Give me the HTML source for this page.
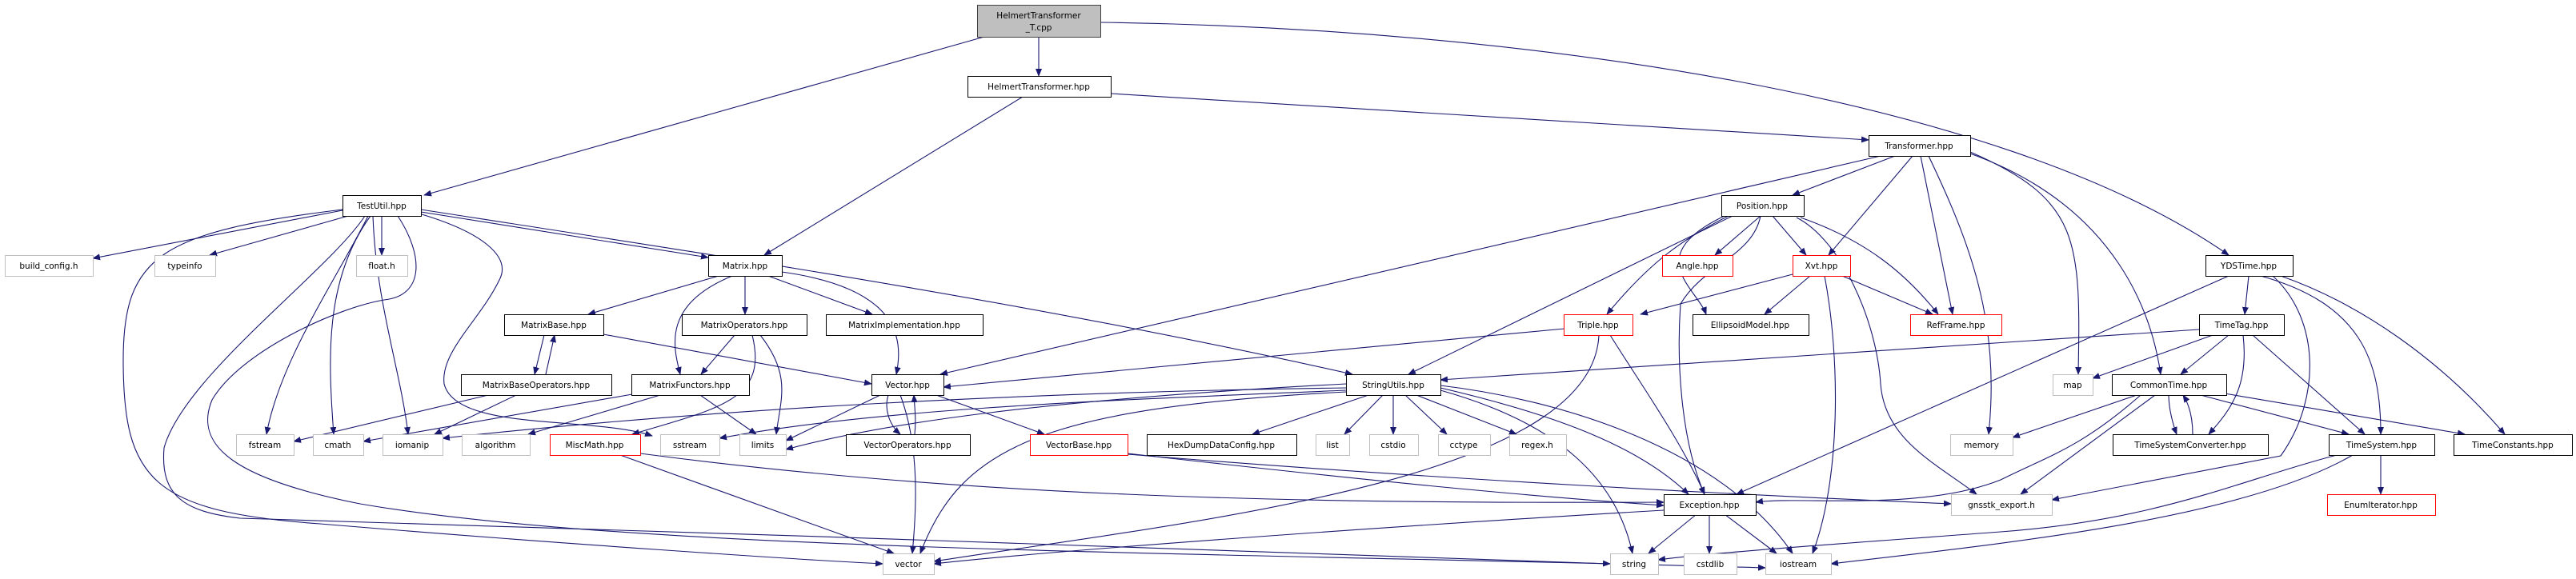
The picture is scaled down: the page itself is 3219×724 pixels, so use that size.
<!DOCTYPE html>
<html><head><meta charset="utf-8"><style>
html,body{margin:0;padding:0;background:#fff;width:3219px;height:724px;overflow:hidden}
svg text{font-family:"DejaVu Sans","Liberation Sans",sans-serif;font-size:10.5px;text-anchor:middle;fill:#000}
.e{fill:none;stroke:#191970;stroke-width:1.1;marker-end:url(#a)}
.n{fill:#fff;stroke:#000;stroke-width:1}
.g{fill:#fff;stroke:#bfbfbf;stroke-width:1}
.r{fill:#fff;stroke:#ff0000;stroke-width:1}
</style></head><body>
<svg width="3219" height="724" viewBox="0 0 3219 724" xmlns="http://www.w3.org/2000/svg">
<defs><marker id="a" markerWidth="10" markerHeight="8" refX="9" refY="4" orient="auto" markerUnits="userSpaceOnUse"><path d="M0,0 L10,4 L0,8 z" fill="#191970"/></marker></defs>
<g>
<path class="e" d="M1230,46 L530,244"/>
<path class="e" d="M1298,46 L1298,95"/>
<path class="e" d="M1375,28 C1900,35 2500,120 2785,319"/>
<path class="e" d="M1278,121 L955,319"/>
<path class="e" d="M1388,117 L2335,175"/>
<path class="e" d="M2350,195 L1175,468"/>
<path class="e" d="M2368,195 L2240,244"/>
<path class="e" d="M2390,195 L2285,319"/>
<path class="e" d="M2400,195 L2440,393"/>
<path class="e" d="M2462,190 C2600,250 2600,300 2597,468"/>
<path class="e" d="M2462,192 C2650,260 2690,400 2700,468"/>
<path class="e" d="M2410,195 C2460,300 2500,400 2485,543"/>
<path class="e" d="M2165,270 L1760,468"/>
<path class="e" d="M2160,270 C2100,300 2060,330 2008,393"/>
<path class="e" d="M2200,270 L2143,319"/>
<path class="e" d="M2215,270 L2257,319"/>
<path class="e" d="M2250,272 C2330,300 2380,340 2422,393"/>
<path class="e" d="M2245,272 C2300,300 2345,400 2350,480 C2355,550 2420,580 2470,618"/>
<path class="e" d="M2155,270 C2050,320 2120,360 2132,393"/>
<path class="e" d="M2200,270 C2190,320 2130,330 2100,380 C2095,450 2100,550 2130,618"/>
<path class="e" d="M2240,343 L2050,393"/>
<path class="e" d="M2262,345 L2205,393"/>
<path class="e" d="M2302,345 L2415,393"/>
<path class="e" d="M2280,345 C2300,450 2300,600 2265,692"/>
<path class="e" d="M1955,411 L1179,484"/>
<path class="e" d="M2012,419 C2050,480 2100,550 2130,618"/>
<path class="e" d="M1998,419 C1990,600 1500,650 1167,702"/>
<path class="e" d="M2785,345 L2170,618"/>
<path class="e" d="M2810,345 L2805,393"/>
<path class="e" d="M2825,345 C2950,380 2975,450 2975,543"/>
<path class="e" d="M2850,345 C2950,380 3050,450 3130,543"/>
<path class="e" d="M2840,345 C2900,400 2900,500 2850,570 L2564,625"/>
<path class="e" d="M2748,412 L1800,475"/>
<path class="e" d="M2765,419 L2615,473"/>
<path class="e" d="M2785,419 L2725,468"/>
<path class="e" d="M2803,419 C2810,480 2790,510 2760,543"/>
<path class="e" d="M2815,419 L2955,543"/>
<path class="e" d="M2670,494 L2515,547"/>
<path class="e" d="M2710,494 C2710,510 2715,530 2720,543"/>
<path class="e" d="M2740,543 C2740,520 2735,505 2728,494"/>
<path class="e" d="M2750,494 L2935,543"/>
<path class="e" d="M2780,492 L3080,543"/>
<path class="e" d="M2693,494 L2525,618"/>
<path class="e" d="M2675,494 C2600,560 2560,570 2500,600 C2400,640 2250,620 2194,628"/>
<path class="e" d="M2975,569 L2975,618"/>
<path class="e" d="M2920,569 C2800,600 2700,650 2500,665 C2300,680 2150,690 2072,700"/>
<path class="e" d="M2940,569 C2800,650 2500,680 2288,705"/>
<path class="e" d="M428,263 L116,323"/>
<path class="e" d="M435,270 L262,319"/>
<path class="e" d="M477,270 L477,319"/>
<path class="e" d="M526,265 L885,322"/>
<path class="e" d="M526,262 C900,320 1300,380 1690,468"/>
<path class="e" d="M460,270 C420,350 350,450 333,543"/>
<path class="e" d="M463,270 C405,350 410,450 417,543"/>
<path class="e" d="M466,270 C470,380 500,460 510,543"/>
<path class="e" d="M527,268 C600,290 640,320 624,350 C600,400 550,440 555,480 C570,540 740,520 815,545"/>
<path class="e" d="M428,262 C200,290 154,320 154,450 C154,600 190,640 400,655 C700,680 1000,700 1103,705"/>
<path class="e" d="M456,270 C410,340 230,470 205,560 C200,620 230,640 300,648 C800,665 1700,690 2012,705"/>
<path class="e" d="M497,270 C530,320 530,370 480,375 C420,385 300,440 265,500 C240,560 300,600 450,630 C800,690 1500,690 2206,710"/>
<path class="e" d="M898,345 L735,393"/>
<path class="e" d="M915,345 C830,380 840,430 850,468"/>
<path class="e" d="M931,345 L931,393"/>
<path class="e" d="M960,345 L1090,393"/>
<path class="e" d="M977,340 C1120,360 1130,420 1120,468"/>
<path class="e" d="M680,419 L668,468"/>
<path class="e" d="M682,468 L693,419"/>
<path class="e" d="M754,418 L1089,480"/>
<path class="e" d="M610,494 L367,552"/>
<path class="e" d="M645,494 L543,543"/>
<path class="e" d="M918,419 L876,468"/>
<path class="e" d="M940,419 C960,500 900,510 790,543"/>
<path class="e" d="M950,419 C990,470 975,500 970,543"/>
<path class="e" d="M790,493 L454,552"/>
<path class="e" d="M825,494 L660,543"/>
<path class="e" d="M875,494 L945,543"/>
<path class="e" d="M1110,494 C1105,510 1110,530 1125,543"/>
<path class="e" d="M1143,543 C1145,525 1143,510 1142,494"/>
<path class="e" d="M1170,494 L1305,543"/>
<path class="e" d="M1100,494 L982,551"/>
<path class="e" d="M1125,494 C1150,560 1145,640 1140,692"/>
<path class="e" d="M1682,485 C1300,490 900,510 553,548"/>
<path class="e" d="M1682,480 C1300,500 1100,530 982,562"/>
<path class="e" d="M1682,488 C1400,500 1100,510 899,548"/>
<path class="e" d="M1682,490 C1300,510 1200,560 1150,692"/>
<path class="e" d="M1710,494 L1565,543"/>
<path class="e" d="M1728,494 L1680,543"/>
<path class="e" d="M1741,494 L1741,543"/>
<path class="e" d="M1756,494 L1808,543"/>
<path class="e" d="M1770,494 L1895,543"/>
<path class="e" d="M1800,485 C1950,520 2050,560 2110,618"/>
<path class="e" d="M1800,488 C1950,530 2020,600 2040,692"/>
<path class="e" d="M1800,482 C1950,500 2150,560 2240,692"/>
<path class="e" d="M775,569 L1117,692"/>
<path class="e" d="M800,567 C1200,620 1600,630 2079,628"/>
<path class="e" d="M1409,567 C1700,600 1900,620 2079,632"/>
<path class="e" d="M1409,568 C1800,600 2200,620 2438,630"/>
<path class="e" d="M2079,638 C1700,660 1300,690 1167,705"/>
<path class="e" d="M2120,643 L2060,692"/>
<path class="e" d="M2136,643 L2136,692"/>
<path class="e" d="M2155,643 L2220,692"/>
</g>
<g>
<rect x="1221.5" y="6.5" width="154" height="40" fill="#bfbfbf" stroke="#404040"/>
<text x="1298" y="23">HelmertTransformer</text><text x="1298" y="38">_T.cpp</text>
<rect class="n" x="1209.5" y="95.5" width="179" height="26"/><text x="1298" y="112">HelmertTransformer.hpp</text>
<rect class="n" x="2335.5" y="169.5" width="127" height="26"/><text x="2398" y="186">Transformer.hpp</text>
<rect class="n" x="428.5" y="244.5" width="98" height="26"/><text x="477" y="261">TestUtil.hpp</text>
<rect class="n" x="2151.5" y="244.5" width="103" height="26"/><text x="2202" y="261">Position.hpp</text>
<rect class="g" x="6.5" y="319.5" width="110" height="26"/><text x="61" y="336">build_config.h</text>
<rect class="g" x="193.5" y="319.5" width="76" height="26"/><text x="231" y="336">typeinfo</text>
<rect class="g" x="445.5" y="319.5" width="64" height="26"/><text x="477" y="336">float.h</text>
<rect class="n" x="885.5" y="319.5" width="92" height="26"/><text x="931" y="336">Matrix.hpp</text>
<rect class="r" x="2077.5" y="319.5" width="88" height="26"/><text x="2121" y="336">Angle.hpp</text>
<rect class="r" x="2240.5" y="319.5" width="72" height="26"/><text x="2276" y="336">Xvt.hpp</text>
<rect class="n" x="2756.5" y="319.5" width="109" height="26"/><text x="2810" y="336">YDSTime.hpp</text>
<rect class="n" x="630.5" y="393.5" width="124" height="26"/><text x="692" y="410">MatrixBase.hpp</text>
<rect class="n" x="852.5" y="393.5" width="156" height="26"/><text x="930" y="410">MatrixOperators.hpp</text>
<rect class="n" x="1032.5" y="393.5" width="196" height="26"/><text x="1130" y="410">MatrixImplementation.hpp</text>
<rect class="r" x="1954.5" y="393.5" width="86" height="26"/><text x="1997" y="410">Triple.hpp</text>
<rect class="n" x="2115.5" y="393.5" width="145" height="26"/><text x="2187" y="410">EllipsoidModel.hpp</text>
<rect class="r" x="2387.5" y="393.5" width="114" height="26"/><text x="2444" y="410">RefFrame.hpp</text>
<rect class="n" x="2748.5" y="393.5" width="106" height="26"/><text x="2801" y="410">TimeTag.hpp</text>
<rect class="n" x="576.5" y="468.5" width="188" height="26"/><text x="670" y="485">MatrixBaseOperators.hpp</text>
<rect class="n" x="789.5" y="468.5" width="147" height="26"/><text x="862" y="485">MatrixFunctors.hpp</text>
<rect class="n" x="1089.5" y="468.5" width="90" height="26"/><text x="1134" y="485">Vector.hpp</text>
<rect class="n" x="1682.5" y="468.5" width="118" height="26"/><text x="1741" y="485">StringUtils.hpp</text>
<rect class="g" x="2565.5" y="468.5" width="50" height="26"/><text x="2590" y="485">map</text>
<rect class="n" x="2639.5" y="468.5" width="143" height="26"/><text x="2710" y="485">CommonTime.hpp</text>
<rect class="g" x="295.5" y="543.5" width="72" height="26"/><text x="331" y="560">fstream</text>
<rect class="g" x="391.5" y="543.5" width="63" height="26"/><text x="422" y="560">cmath</text>
<rect class="g" x="478.5" y="543.5" width="75" height="26"/><text x="515" y="560">iomanip</text>
<rect class="g" x="577.5" y="543.5" width="85" height="26"/><text x="619" y="560">algorithm</text>
<rect class="r" x="687.5" y="543.5" width="113" height="26"/><text x="743" y="560">MiscMath.hpp</text>
<rect class="g" x="825.5" y="543.5" width="74" height="26"/><text x="862" y="560">sstream</text>
<rect class="g" x="924.5" y="543.5" width="58" height="26"/><text x="953" y="560">limits</text>
<rect class="n" x="1057.5" y="543.5" width="155" height="26"/><text x="1134" y="560">VectorOperators.hpp</text>
<rect class="r" x="1287.5" y="543.5" width="122" height="26"/><text x="1348" y="560">VectorBase.hpp</text>
<rect class="n" x="1433.5" y="543.5" width="187" height="26"/><text x="1526" y="560">HexDumpDataConfig.hpp</text>
<rect class="g" x="1644.5" y="543.5" width="42" height="26"/><text x="1665" y="560">list</text>
<rect class="g" x="1711.5" y="543.5" width="61" height="26"/><text x="1741" y="560">cstdio</text>
<rect class="g" x="1797.5" y="543.5" width="65" height="26"/><text x="1829" y="560">cctype</text>
<rect class="g" x="1886.5" y="543.5" width="71" height="26"/><text x="1921" y="560">regex.h</text>
<rect class="g" x="2437.5" y="543.5" width="78" height="26"/><text x="2476" y="560">memory</text>
<rect class="n" x="2640.5" y="543.5" width="194" height="26"/><text x="2737" y="560">TimeSystemConverter.hpp</text>
<rect class="n" x="2910.5" y="543.5" width="132" height="26"/><text x="2976" y="560">TimeSystem.hpp</text>
<rect class="n" x="3066.5" y="543.5" width="148" height="26"/><text x="3140" y="560">TimeConstants.hpp</text>
<rect class="n" x="2079.5" y="618.5" width="115" height="26"/><text x="2136" y="635">Exception.hpp</text>
<rect class="g" x="2438.5" y="618.5" width="126" height="26"/><text x="2501" y="635">gnsstk_export.h</text>
<rect class="r" x="2908.5" y="618.5" width="135" height="26"/><text x="2975" y="635">EnumIterator.hpp</text>
<rect class="g" x="1103.5" y="692.5" width="64" height="26"/><text x="1135" y="709">vector</text>
<rect class="g" x="2012.5" y="692.5" width="60" height="26"/><text x="2042" y="709">string</text>
<rect class="g" x="2104.5" y="692.5" width="66" height="26"/><text x="2137" y="709">cstdlib</text>
<rect class="g" x="2206.5" y="692.5" width="82" height="26"/><text x="2247" y="709">iostream</text>
</g>
</svg>
</body></html>
